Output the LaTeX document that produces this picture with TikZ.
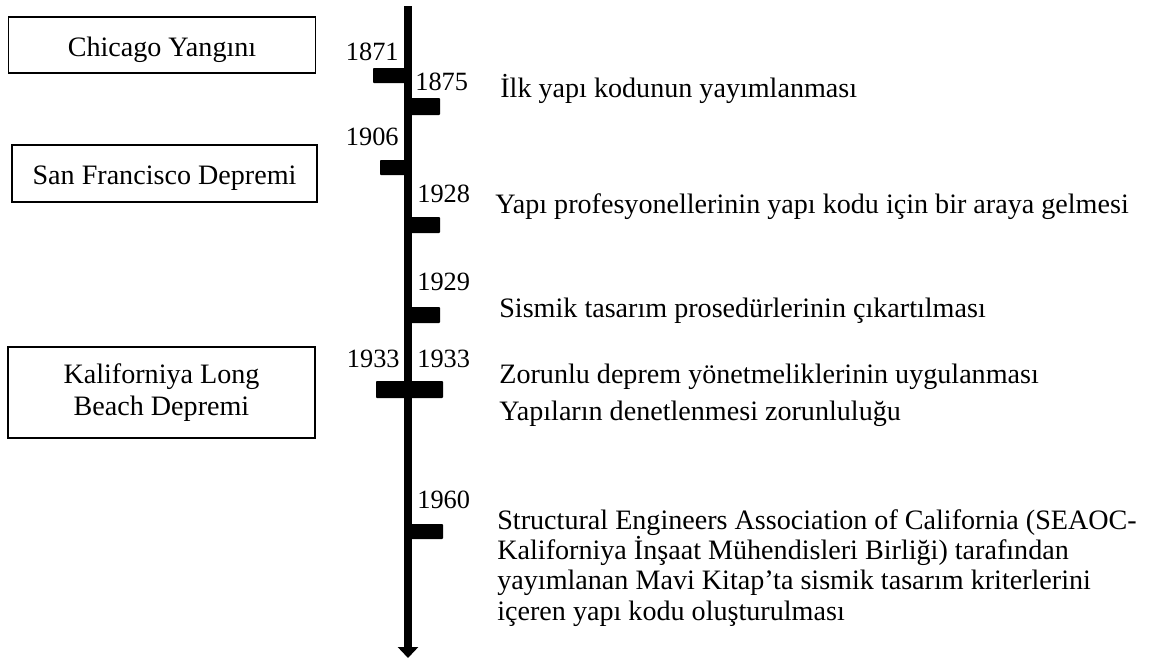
\documentclass[tikz,border=0pt]{standalone}
\usepackage{fontspec}
\setmainfont{Liberation Serif}
\usetikzlibrary{arrows.meta}

\tikzset{
  event/.style={draw, line width=1.1pt, minimum width=6.14cm, align=center,
    inner sep=0pt, font=\fontsize{16}{18.2}\selectfont},
  oneline/.style={text height=14.4pt, text depth=1.6pt},
  year/.style={inner sep=0pt, font=\fontsize{15}{17}\selectfont},
  note/.style={anchor=base west, inner sep=0pt, align=left,
    font=\fontsize{16}{17.1}\selectfont},
  tick/.style={fill=black, rounded corners=0.5pt},
}

\begin{document}
\begin{tikzpicture}[x=0.02cm,y=-0.02cm,line cap=round]
  \useasboundingbox (0,0) rectangle (1152,659);
  % time axis
  \coordinate (top) at (408,6);
  \coordinate (bottom) at (408,658);
  \draw[line width=0.16cm, line cap=butt, -{Triangle[width=0.4cm,length=0.22cm]}] (top) -- (bottom);
  % ticks
  \foreach \xa/\xb/\ya/\yb in {373/409/68/83, 407/440/98/115, 380/409/160/175,
      407/440/217/233, 407/440/307/323, 376/443/381/398, 407/443/524/539}
    \fill[tick] (\xa,\ya) rectangle (\xb,\yb);
  % years
  \node[year, anchor=base east] (y1871) at (399,60) {1871};
  \node[year, anchor=base west] (y1875) at (415,90) {1875};
  \node[year, anchor=base east] (y1906) at (399,145) {1906};
  \node[year, anchor=base west] (y1928) at (417,202) {1928};
  \node[year, anchor=base west] (y1929) at (417,290) {1929};
  \node[year, anchor=base east] (y1933a) at (400,367) {1933};
  \node[year, anchor=base west] (y1933b) at (417,367) {1933};
  \node[year, anchor=base west] (y1960) at (417,508) {1960};
  % events on the left
  \node[event, oneline, minimum height=1.12cm] (chicago) at (162,45) {Chicago Yangını};
  \node[event, oneline, minimum height=1.14cm, minimum width=6.1cm] (sanfran) at (164.5,173.5) {San Francisco Depremi};
  \node[event, minimum height=1.82cm] (longbeach) at (161.5,392.5) {Kaliforniya Long\\Beach Depremi};
  % notes on the right (multi-line ones sit on their last line)
  \node[note] (firstcode) at (500,97) {İlk yapı kodunun yayımlanması};
  \node[note] (meeting) at (495,213) {Yapı profesyonellerinin yapı kodu için bir araya gelmesi};
  \node[note] (seismic) at (499,317) {Sismik tasarım prosedürlerinin çıkartılması};
  \node[note, font=\fontsize{16}{20.5}\selectfont] (mandatory) at (499,420)
    {Zorunlu deprem yönetmeliklerinin uygulanması\\Yapıların denetlenmesi zorunluluğu};
  \node[note] (seaoc) at (497,620)
    {Structural Engineers Association of California (SEAOC-\\Kaliforniya İnşaat Mühendisleri Birliği) tarafından\\yayımlanan Mavi Kitap’ta sismik tasarım kriterlerini\\içeren yapı kodu oluşturulması};
\end{tikzpicture}
\end{document}
